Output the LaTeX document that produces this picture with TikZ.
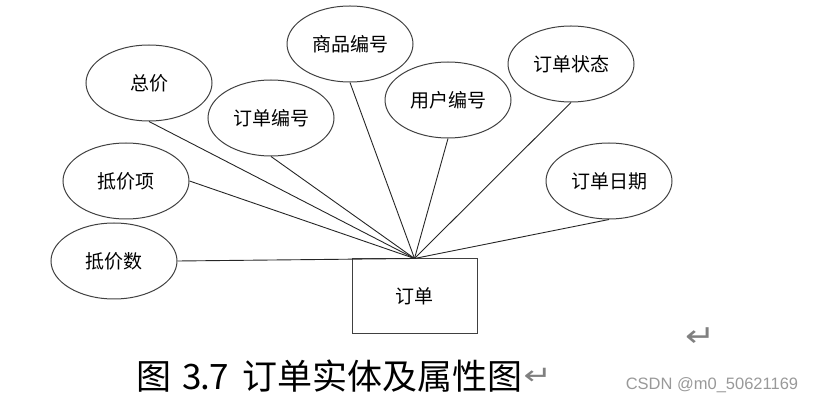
\documentclass[tikz,border=0pt]{standalone}
\usepackage{fontspec}
\setmainfont{Liberation Sans}
\newfontfamily\cjk{Noto Sans CJK SC}
\newfontfamily\symfont{DejaVu Sans}
\usetikzlibrary{shapes.geometric}
\tikzset{
  attr/.style={ellipse, draw=black!75, line width=1pt, inner sep=0pt,
    minimum width=126pt, minimum height=76pt, font=\cjk\fontsize{19}{19}\selectfont},
  entity/.style={rectangle, draw=black!75, line width=1pt, inner sep=0pt,
    minimum width=125pt, minimum height=75pt, font=\cjk\fontsize{19}{19}\selectfont},
  link/.style={draw=black!85, line width=0.9pt},
  retmark/.style={text=black!50, inner sep=0pt}
}
\begin{document}
\begin{tikzpicture}[x=1pt, y=-1pt]
  \useasboundingbox (0,0) rectangle (815,403);
  % attributes
  \node[attr] (zj)   at (149,83)  {总价};
  \node[attr] (spbh) at (350,44)  {商品编号};
  \node[attr] (ddbh) at (271,118) {订单编号};
  \node[attr] (yhbh) at (448,100) {用户编号};
  \node[attr] (ddzt) at (571,64)  {订单状态};
  \node[attr] (djx)  at (126,181) {抵价项};
  \node[attr] (ddrq) at (609,181) {订单日期};
  \node[attr] (djs)  at (114,261) {抵价数};
  % entity
  \node[entity] (order) at (414.5,296.5) {订单};
  % links
  \foreach \a in {zj, spbh, ddbh, yhbh, ddzt, ddrq}
    \draw[link] (\a.south) -- (order.north);
  \draw[link] (djx.east) -- (order.north);
  \draw[link] (djs.east) -- (order.north);
  % caption
  \node[anchor=west, inner sep=0pt, font=\cjk\fontsize{35}{35}\selectfont] (cap) at (136,376)
    {图\hspace{13pt}\makebox[16pt]{3}\makebox[10pt]{.}\makebox[18pt]{7}\hspace{14pt}订单实体及属性图};
  \node[retmark, anchor=west, font=\symfont\fontsize{26}{26}\selectfont] (ret1) at ([xshift=1pt]cap.east)
    {\scalebox{1.3}[1]{↵}};
  \node[retmark, font=\symfont\fontsize{30}{30}\selectfont] (ret2) at (701,337) {\scalebox{1.2}[1]{↵}};
  \node[text=black!40, font=\fontsize{16.5}{16.5}\selectfont, inner sep=0pt] (wm) at (712,385) {CSDN @m0\_50621169};
\end{tikzpicture}
\end{document}
